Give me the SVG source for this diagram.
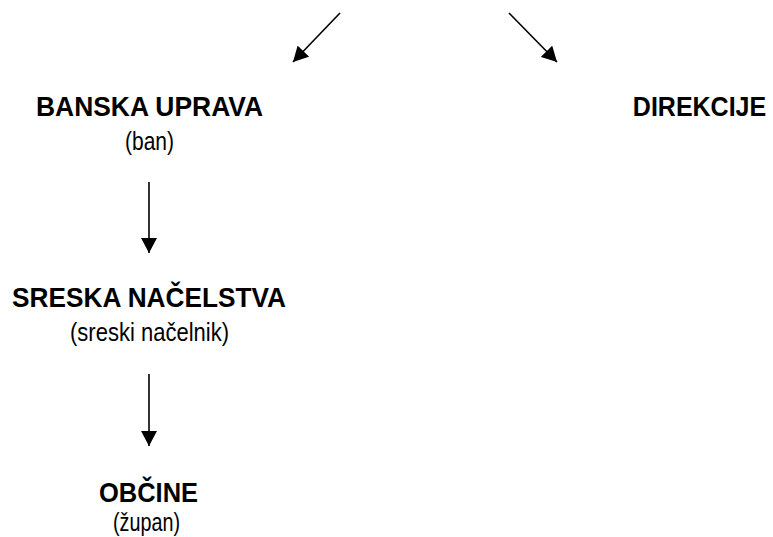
<svg xmlns="http://www.w3.org/2000/svg" width="773" height="537" viewBox="0 0 773 537">
<style>
.t{font-family:"Liberation Sans",Arial,sans-serif;font-weight:bold;font-size:28px;fill:#000;text-anchor:middle}
.s{font-family:"Liberation Sans",Arial,sans-serif;font-size:25px;fill:#000;text-anchor:middle}
.c{stroke:#000;stroke-width:1.6;fill:none}
</style>
<defs>
<marker id="ah" markerUnits="userSpaceOnUse" markerWidth="16" markerHeight="16" refX="15" refY="8" orient="auto" viewBox="0 0 16 16">
<path d="M0,0 L15,8 L0,16 z" fill="#000"/>
</marker>
</defs>
<g id="connectors">
<line class="c" x1="340" y1="13" x2="293" y2="62" marker-end="url(#ah)"/>
<line class="c" x1="509" y1="13" x2="557" y2="62" marker-end="url(#ah)"/>
<line class="c" x1="149" y1="182" x2="149" y2="253" marker-end="url(#ah)"/>
<line class="c" x1="149" y1="374" x2="149" y2="446" marker-end="url(#ah)"/>
</g>
<g id="banska">
<text class="t" x="149.5" y="116" textLength="227" lengthAdjust="spacingAndGlyphs">BANSKA UPRAVA</text>
<text class="s" x="149.5" y="150" textLength="49" lengthAdjust="spacingAndGlyphs">(ban)</text>
</g>
<g id="direkcije">
<text class="t" transform="translate(699.5,116) scale(0.893,1)" x="0" y="0">DIREKCIJE</text>
</g>
<g id="sreska">
<text class="t" x="149" y="307" textLength="274" lengthAdjust="spacingAndGlyphs">SRESKA NAČELSTVA</text>
<text class="s" x="149.5" y="341" textLength="159" lengthAdjust="spacingAndGlyphs">(sreski načelnik)</text>
</g>
<g id="opcine">
<text class="t" x="148.5" y="502" textLength="99" lengthAdjust="spacingAndGlyphs">OBČINE</text>
<text class="s" x="146.5" y="531" textLength="67" lengthAdjust="spacingAndGlyphs">(župan)</text>
</g>
</svg>
